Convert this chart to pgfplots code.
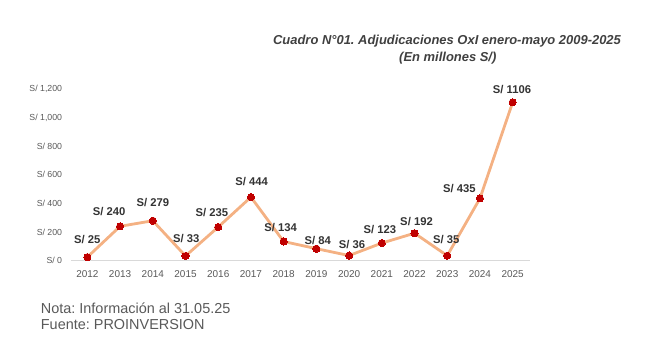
\documentclass[border=0pt]{standalone}
\usepackage{pgfplots}
\pgfplotsset{compat=1.18}
\usepackage{pgfplotstable}
\usepackage{fontspec}
\setmainfont{Liberation Sans}
\frenchspacing
\definecolor{linec}{HTML}{F4B183}
\definecolor{markc}{HTML}{C00000}
\definecolor{titlec}{HTML}{404040}
\definecolor{labc}{HTML}{333333}
\definecolor{tickc}{HTML}{595959}
\definecolor{basec}{HTML}{D9D9D9}
\pgfplotstableread{
year val dx dy
2012 25 0 13.4
2013 240 -11 10.7
2014 279 0 14
2015 33 0.7 13.7
2016 235 -6.4 11
2017 444 0.7 11.7
2018 134 -3 10.3
2019 84 1.3 4.3
2020 36 3 6.7
2021 123 -2 9.3
2022 192 2 8
2023 35 -1 12
2024 435 -20.6 6
2025 1106 -0.7 9
}\datatable
\begin{document}
\frenchspacing
\begin{tikzpicture}[x=1bp,y=1bp]
\path[use as bounding box] (0,0) rectangle (651,362);
\node[anchor=base, font=\fontsize{13}{15}\selectfont\bfseries\itshape\frenchspacing, text=titlec, inner sep=0] at (447,317.3) {Cuadro N°01. Adjudicaciones OxI enero-mayo 2009-2025};
\node[anchor=base, font=\fontsize{13}{15}\selectfont\bfseries\itshape, text=titlec, inner sep=0] at (447.8,300.8) {(En millones S/)};
\begin{axis}[
  at={(71bp,101.3bp)}, anchor=south west,
  scale only axis, width=459bp, height=171.9bp,
  xmin=2011.5, xmax=2025.53, ymin=0, ymax=1200,
  clip=false,
  axis x line*=bottom, axis y line*=left,
  x axis line style={draw=basec, line width=0.8bp},
  y axis line style={draw=none},
  major tick length=0,
  xtick={2012,2013,2014,2015,2016,2017,2018,2019,2020,2021,2022,2023,2024,2025},
  xticklabels={2012,2013,2014,2015,2016,2017,2018,2019,2020,2021,2022,2023,2024,2025},
  xticklabel style={anchor=center, yshift=-13.3bp, inner sep=0, font=\fontsize{10}{12}\selectfont, text=tickc},
  ytick={0,200,400,600,800,1000,1200},
  yticklabels={S/ 0,S/ 200,S/ 400,S/ 600,S/ 800,{S/ 1,000},{S/ 1,200}},
  yticklabel style={anchor=base east, xshift=-8.7bp, yshift=-3.15bp, inner sep=0, font=\fontsize{8.8}{10}\selectfont, text=tickc},
]
\addplot[color=linec, line width=2.8bp, line join=round,
  mark=*, mark size=3.6bp, mark options={draw=markc, fill=markc, line width=0pt},
  point meta=explicit symbolic,
  visualization depends on={\thisrow{dx} \as \mydx},
  visualization depends on={\thisrow{dy} \as \mydy},
  nodes near coords={S/ \pgfplotspointmeta},
  nodes near coords style={anchor=base, inner sep=0, xshift=\mydx bp, yshift=\mydy bp, font=\fontsize{11.3}{13}\selectfont\bfseries, text=labc},
] table[x=year, y=val, meta=val] {\datatable};
\end{axis}
\node[anchor=base west, inner sep=0, font=\fontsize{14.5}{16}\selectfont\frenchspacing, text=tickc] at (40.7,48.5) {Nota: Información al 31.05.25};
\node[anchor=base west, inner sep=0, font=\fontsize{14.5}{16}\selectfont\frenchspacing, text=tickc] at (40.7,32.5) {Fuente: PROINVERSION};
\end{tikzpicture}
\end{document}
